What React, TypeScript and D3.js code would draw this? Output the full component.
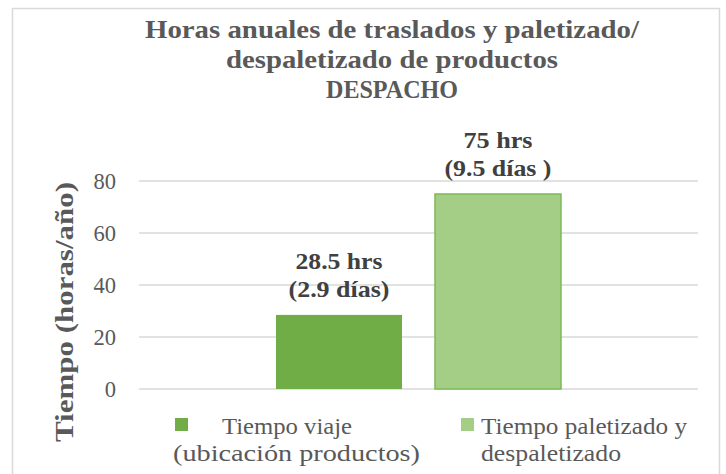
import React from "react";
import * as d3 from "d3";

const categories = ["DESPACHO"];
const seriesNames = ["Tiempo viaje (ubicación productos)", "Tiempo paletizado y despaletizado"];
const seriesValues = [28.5, 75];
const dataLabels = [["28.5 hrs", "(2.9 días)"], ["75 hrs", "(9.5 días )"]];
const legendLines = [["Tiempo viaje", "(ubicación productos)"], ["Tiempo paletizado y", "despaletizado"]];
const yTicks = [0, 20, 40, 60, 80];
const titleLines = ["Horas anuales de traslados y paletizado/", "despaletizado de productos", "DESPACHO"];
const colors = ["#70AD47", "#A4CE86"];
const strokes = ["none", "#7CB956"];

const W = 726, H = 474;
const plot = { left: 139, right: 698, top: 129, bottom: 389 };
const FONT = "'Liberation Serif', 'DejaVu Serif', serif";
const TXT = "#595959";

const titleLen = [494, 332, 132];
const labelLen = [[87, 101], [69, 107]];

export default function App() {
  const y = d3.scaleLinear().domain([0, 100]).range([plot.bottom, plot.top]);
  const x0 = d3.scaleBand().domain(categories).range([plot.left, plot.right]).paddingInner(0).paddingOuter(0);
  const clusterW = 285;
  const cx0 = x0(categories[0])! + (x0.bandwidth() - clusterW) / 2;
  const x1 = d3.scaleBand<number>().domain([0, 1]).range([cx0, cx0 + clusterW]).paddingInner(0.2075).paddingOuter(0);

  return (
    <svg width={W} height={H} style={{ position: "absolute", left: 0, top: 0, background: "#fff" }} fontFamily={FONT}>
      <rect x={12.5} y={8.5} width={707} height={480} fill="#fff" stroke="#d9d9d9" strokeWidth={1.5} />
      {titleLines.map((t, i) => (
        <text key={i} x={392} y={38 + i * 30} textAnchor="middle" fontWeight="bold" fontSize={25.5} fill={TXT}
          textLength={titleLen[i]} lengthAdjust="spacingAndGlyphs">{t}</text>
      ))}
      {yTicks.map((t) => (
        <g key={t}>
          <line x1={plot.left} x2={plot.right} y1={y(t)} y2={y(t)} stroke="#d9d9d9" strokeWidth={1.5} />
          <text x={116} y={y(t) + 8} textAnchor="end" fontSize={22.5} fill={TXT}>{t}</text>
        </g>
      ))}
      <text transform={`translate(73,${312}) rotate(-90)`} textAnchor="middle" fontWeight="bold" fontSize={25} fill={TXT}
        textLength={260} lengthAdjust="spacingAndGlyphs">Tiempo (horas/año)</text>
      {seriesValues.map((v, i) => (
        <g key={i}>
          <rect x={x1(i)!} y={y(v)} width={x1.bandwidth()} height={plot.bottom - y(v)} fill={colors[i]}
            stroke={strokes[i]} strokeWidth={1.5} />
          {dataLabels[i].map((l, j) => (
            <text key={j} x={x1(i)! + x1.bandwidth() / 2} y={y(v) - 46 + j * 28} textAnchor="middle" fontWeight="bold"
              fontSize={24} fill="#404040" textLength={labelLen[i][j]} lengthAdjust="spacingAndGlyphs">{l}</text>
          ))}
        </g>
      ))}
      <rect x={175} y={418} width={13} height={13} fill={colors[0]} />
      <text x={222} y={434} fontSize={24} fill={TXT} textLength={130} lengthAdjust="spacingAndGlyphs">{legendLines[0][0]}</text>
      <text x={173} y={461} fontSize={24} fill={TXT} textLength={247} lengthAdjust="spacingAndGlyphs">{legendLines[0][1]}</text>
      <rect x={461} y={418} width={13} height={13} fill={colors[1]} />
      <text x={481} y={434} fontSize={24} fill={TXT} textLength={206} lengthAdjust="spacingAndGlyphs">{legendLines[1][0]}</text>
      <text x={481} y={461} fontSize={24} fill={TXT} textLength={140} lengthAdjust="spacingAndGlyphs">{legendLines[1][1]}</text>
    </svg>
  );
}
